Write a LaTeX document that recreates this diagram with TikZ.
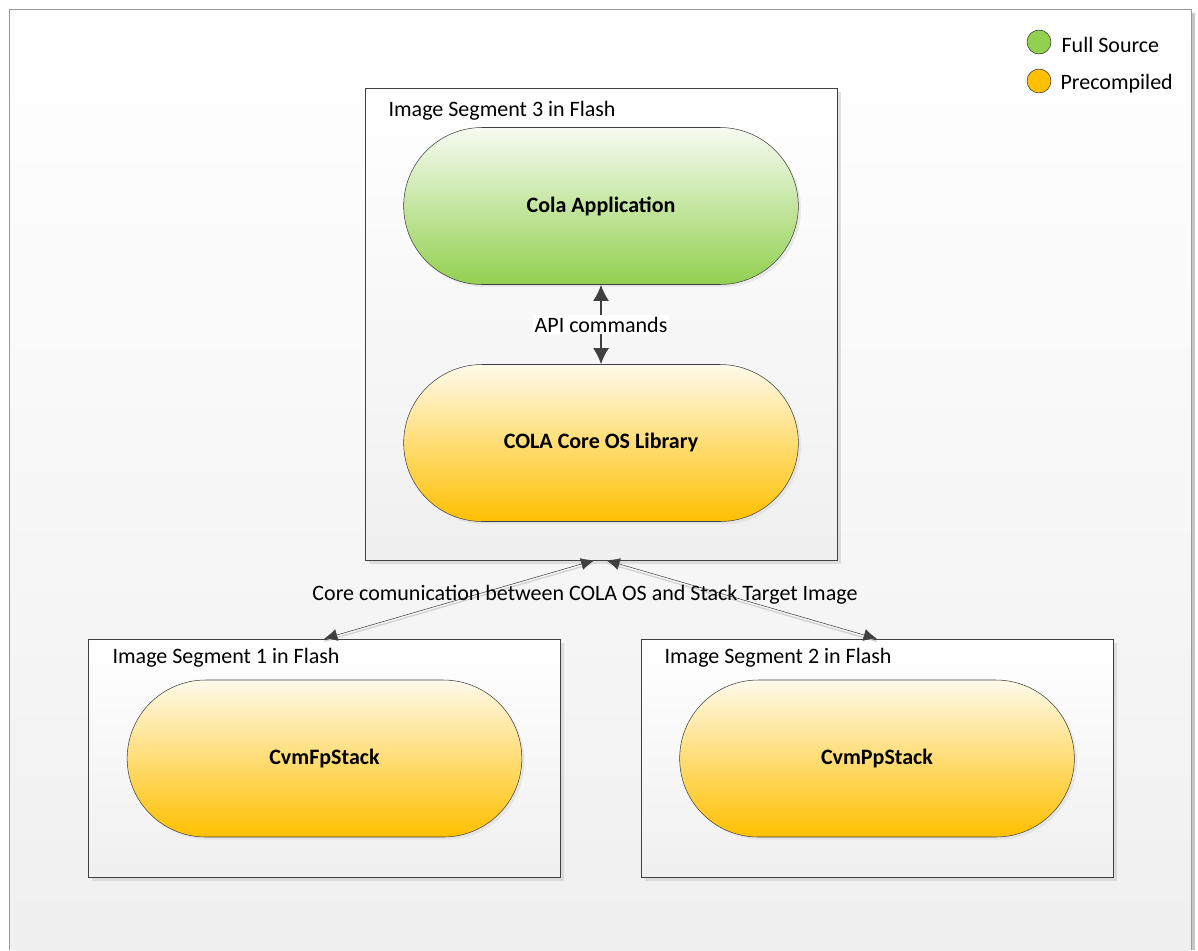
\documentclass[tikz,border=0pt]{standalone}
\usepackage{fontspec}
\setmainfont{Carlito}
\usetikzlibrary{shapes.misc,shadows,arrows.meta}
\tikzset{>={Latex[length=10pt,width=9pt]}}
\definecolor{colagreen}{RGB}{146,208,80}
\definecolor{colaorange}{RGB}{255,192,0}
\definecolor{linegray}{RGB}{64,64,64}
\tikzset{
	segment/.style={draw=linegray, top color=white, bottom color=gray!12, minimum width=354pt, drop shadow={shadow xshift=3pt, shadow yshift=-3pt, fill=gray!45}},
	pill/.style={rounded rectangle, draw=linegray, minimum width=307pt, minimum height=117.75pt, font=\bfseries, drop shadow={shadow xshift=2pt, shadow yshift=-2pt, fill=gray!30}},
	fullsrc/.style={pill, top color=colagreen!8, bottom color=colagreen},
	precomp/.style={pill, top color=colaorange!8, bottom color=colaorange},
	keydot/.style={circle, draw=black!80, minimum size=18pt, inner sep=0pt}
}

\begin{document}
\fontsize{16.5pt}{20pt}\selectfont
\begin{tikzpicture}[x=0.75pt,y=-0.75pt]
\useasboundingbox (0,0) rectangle (1198,950);
\fill[gray!45] (1191,13) rectangle (1195,950);
\shade[top color=white, bottom color=gray!12] (9,9) rectangle (1191,950);
\draw[gray!80] (9,950)--(9,9)--(1191,9)--(1191,950);

	\node[keydot, fill=colagreen] (kfull) at (1039,42){};
	\node[anchor=west] (tfull) at (1054,45){Full Source};
	\node[keydot, fill=colaorange] (kpre) at (1039,81){};
	\node[anchor=west] (tpre) at (1053,84){Precompiled};

	\node[segment, minimum height=354pt] (seg3) at (601,324){};
	\node[segment, minimum height=178.5pt] (seg1) at (324,758){};
	\node[segment, minimum height=178.5pt] (seg2) at (877,758){};

	\node[anchor=west] (lseg3) at (381,111){Image Segment 3 in Flash};
	\node[anchor=west] (lseg1) at (105,658){Image Segment 1 in Flash};
	\node[anchor=west] (lseg2) at (657,658){Image Segment 2 in Flash};

	\node[fullsrc] (app) at (601,206){Cola Application};
	\node[precomp] (core) at (601,443){COLA Core OS Library};
	\node[precomp] (fp) at (324.5,758.5){CvmFpStack};
	\node[precomp] (pp) at (877,758.5){CvmPpStack};

	\draw[{Latex[length=12pt,width=12pt]}-{Latex[length=12pt,width=12pt]}, linegray, line width=1.5pt] (app.south) -- node[fill=white, text=black, inner sep=1pt]{API commands} (core.north);

	\coordinate (hubl) at ([xshift=-5pt]seg3.south);
	\coordinate (hubr) at ([xshift=4pt]seg3.south);
	\draw[gray!35, line width=1pt] ([yshift=-2pt]hubl) -- ([yshift=-2pt]seg1.north);
	\draw[gray!35, line width=1pt] ([yshift=-2pt]hubr) -- ([yshift=-2pt]seg2.north);
	\draw[<->, linegray] (hubl) -- (seg1.north);
	\draw[<->, linegray] (hubr) -- (seg2.north);
	\node (lcore) at (585,595){Core comunication between COLA OS and Stack Target Image};
\end{tikzpicture}
\end{document}
